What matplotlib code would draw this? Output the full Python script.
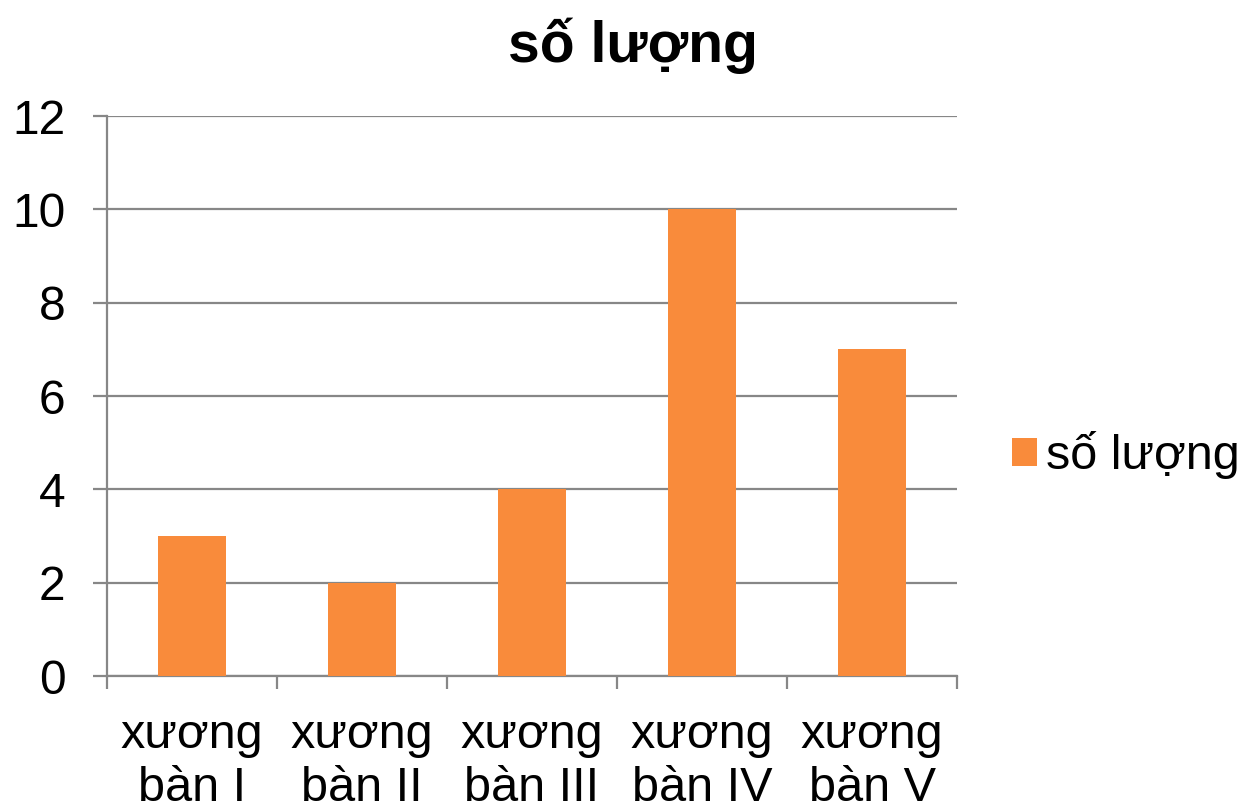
import matplotlib
matplotlib.use("Agg")
import matplotlib.pyplot as plt
from matplotlib.patches import Patch

categories = ["xương\nbàn I", "xương\nbàn II", "xương\nbàn III", "xương\nbàn IV", "xương\nbàn V"]
values = [3, 2, 4, 10, 7]
series_name = "số lượng"
title = "số lượng"
yticks = [0, 2, 4, 6, 8, 10, 12]

plt.rcParams['font.family'] = ['Liberation Sans', 'DejaVu Sans']

W, H = 1242, 808
fig = plt.figure(figsize=(W / 100, H / 100), dpi=100)
ax = fig.add_axes([107 / W, 1 - 676 / H, (957 - 107) / W, (676 - 116) / H])

color = '#F98B3B'
grid = '#878787'
x = list(range(len(categories)))
ax.bar(x, values, width=0.4, color=color, zorder=3)

ax.set_xlim(-0.5, len(categories) - 0.5)
ax.set_ylim(0, 12)
ax.set_yticks(yticks)
ax.set_yticklabels([str(v) for v in yticks], fontsize=34.5)
ax.yaxis.grid(True, color=grid, linewidth=1.6, zorder=0)
ax.set_axisbelow(True)

for s in ['top', 'right']:
    ax.spines[s].set_visible(False)
for s in ['left', 'bottom']:
    ax.spines[s].set_color(grid)
    ax.spines[s].set_linewidth(1.6)

ax.tick_params(axis='y', length=10, width=1.6, color=grid, pad=20)
ax.set_xticks([i - 0.5 for i in range(len(categories) + 1)])
ax.set_xticklabels([])
ax.tick_params(axis='x', which='major', length=9, width=1.6, color=grid)
ax.set_xticks(x, minor=True)
ax.set_xticklabels(categories, minor=True, fontsize=35, linespacing=1.22)
ax.tick_params(axis='x', which='minor', length=0, pad=27)

fig.text(633 / W, 1 - 62 / H, title, fontsize=41, fontweight='bold',
         ha='center', va='baseline')

handle = Patch(facecolor=color, edgecolor='none')
fig.legend([handle], [series_name], loc='center left',
           bbox_to_anchor=(1012 / W, 1 - 455 / H), frameon=False,
           fontsize=35, handlelength=0.52, handleheight=0.52,
           handletextpad=0.18, borderpad=0, borderaxespad=0)

fig.savefig("out.png", dpi=100)
